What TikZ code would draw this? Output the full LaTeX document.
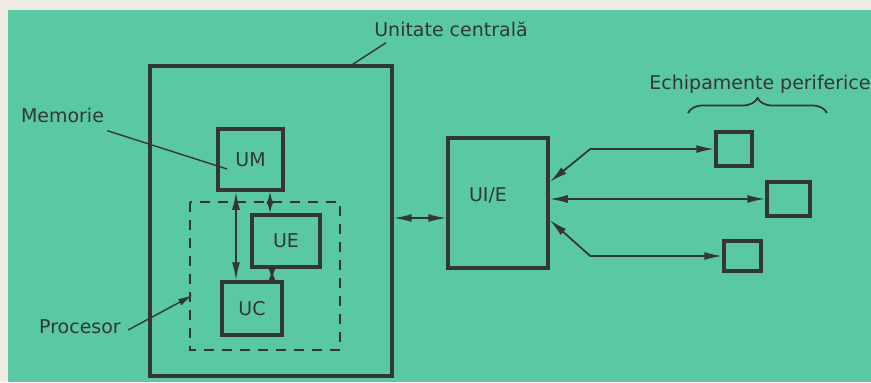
\documentclass[tikz,border=0pt]{standalone}
\usepackage{fontspec}
\setmainfont{DejaVu Sans}
\usetikzlibrary{arrows.meta,decorations.pathreplacing}
\definecolor{bggreen}{RGB}{90,200,160}
\definecolor{paper}{RGB}{238,236,226}
\definecolor{ink}{RGB}{52,54,54}
\tikzset{
  unit/.style={draw=ink, line width=2pt, inner sep=0pt, text=ink},
  lbl/.style={inner sep=0pt, text=ink},
  wire/.style={draw=ink, line width=1pt,
    {Latex[length=3.6mm,width=1.6mm]}-{Latex[length=3.6mm,width=1.6mm]}},
  shortwire/.style={draw=ink, line width=1pt,
    {Latex[length=2.4mm,width=1.4mm]}-{Latex[length=2.4mm,width=1.4mm]}},
  leader/.style={draw=ink, line width=0.8pt}
}
\begin{document}
\begin{tikzpicture}[x=0.02cm,y=-0.02cm,font=\fontsize{10.8}{12}\selectfont]
  \useasboundingbox (0,0) rectangle (871,382);
  \fill[paper] (0,0) rectangle (871,382);
  \fill[bggreen] (8,10) rectangle (871,382);

  % unitatea centrala
  \node[unit, minimum width=4.84cm, minimum height=6.2cm] (cu) at (271,221) {};
  \draw[ink, line width=1pt, dash pattern=on 0.2cm off 0.16cm]
    (190,202) rectangle (340,350);
  \coordinate (pr) at (190,276);
  \node[unit, minimum width=1.3cm, minimum height=1.22cm] (um) at (250.5,159.5) {UM};
  \node[unit, minimum width=1.36cm, minimum height=1.04cm] (ue) at (286,241) {UE};
  \node[unit, minimum width=1.2cm, minimum height=1.06cm] (uc) at (252,308.5) {UC};

  \draw[wire] ([xshift=-0.29cm]um.south) -- ([xshift=-0.29cm]um.south |- uc.north);
  \draw[shortwire] ([xshift=0.39cm]um.south) -- ([xshift=0.39cm]um.south |- ue.north);
  \draw[shortwire] ([xshift=0.4cm]uc.north |- ue.south) -- ([xshift=0.4cm]uc.north);

  % interfata si periferice
  \node[unit, minimum width=2cm, minimum height=2.6cm] (uie) at (498,203) {};
  \node[lbl] at ([shift={(-0.2cm,0.16cm)}]uie.center) {UI/E};
  \node[unit, minimum width=0.72cm, minimum height=0.68cm] (p1) at (734,149) {};
  \node[unit, minimum width=0.86cm, minimum height=0.68cm] (p2) at (788.5,199) {};
  \node[unit, minimum width=0.74cm, minimum height=0.6cm] (p3) at (742.5,256) {};

  \draw[wire] ([yshift=-0.3cm]uie.west -| cu.east) -- ([yshift=-0.3cm]uie.west);
  \draw[wire] ([yshift=0.42cm]uie.east) -- ([xshift=-2.48cm]p1.west) -- (p1.west);
  \draw[wire] (uie.east |- p2.west) -- (p2.west);
  \draw[wire] ([yshift=-0.34cm]uie.east) -- ([xshift=-2.64cm]p3.west) -- (p3.west);

  % etichete
  \node[lbl] (cutext) at (451,29) {Unitate centrală};
  \draw[leader] ([shift={(0.24cm,-0.12cm)}]cutext.south west) -- ([xshift=-0.82cm]cu.north east);
  \node[lbl] (mem) at (62.5,115) {Memorie};
  \draw[leader] ([shift={(0.06cm,-0.16cm)}]mem.south east) -- ([shift={(-0.47cm,-0.19cm)}]um.center);
  \node[lbl] (proc) at (80,327) {Procesor};
  \draw[leader, -{Latex[length=3mm,width=1.4mm]}]
    ([shift={(0.14cm,-0.06cm)}]proc.east) -- ([shift={(0.06cm,-0.38cm)}]pr);
  \node[lbl] (per) at (760,84) {Echipamente periferice};
  \draw[draw=ink, line width=1pt, decorate, decoration={brace, amplitude=0.3cm, aspect=0.5}]
    (688,113) -- (827,113);
\end{tikzpicture}
\end{document}
